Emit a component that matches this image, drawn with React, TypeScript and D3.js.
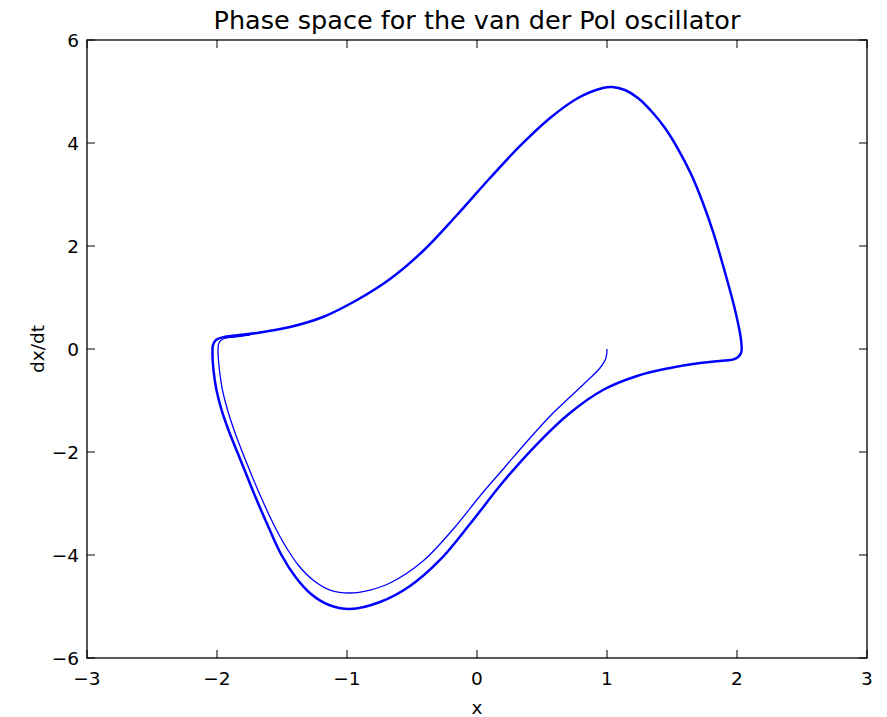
import * as d3 from "d3";
import { useEffect, useRef } from "react";

// limit cycle (x, dx/dt), clockwise from the left corner
const cycleX = [-2.031, -2.008, -1.946, -1.692, -1.438, -1.185, -0.923, -0.669, -0.415, -0.154, 0.1, 0.331, 0.562, 0.777, 0.969, 1.038, 1.138, 1.238, 1.354, 1.446, 1.538, 1.65, 1.738, 1.819, 1.885, 1.985, 2.031, 2.031, 1.985, 1.869, 1.715, 1.485, 1.231, 0.969, 0.715, 0.462, 0.2, -0.054, -0.285, -0.515, -0.746, -0.977, -1.138, -1.277, -1.396, -1.504, -1.604, -1.704, -1.819, -1.912, -1.965, -2.004, -2.027, -2.035];
const cycleY = [0.078, 0.175, 0.233, 0.311, 0.427, 0.621, 0.951, 1.359, 1.903, 2.602, 3.32, 3.942, 4.485, 4.874, 5.068, 5.087, 5.029, 4.874, 4.583, 4.291, 3.922, 3.379, 2.835, 2.252, 1.689, 0.757, 0.175, -0.078, -0.194, -0.233, -0.272, -0.369, -0.524, -0.796, -1.243, -1.845, -2.583, -3.398, -4.097, -4.602, -4.913, -5.049, -4.971, -4.757, -4.427, -4.0, -3.456, -2.874, -2.155, -1.573, -1.184, -0.796, -0.408, -0.058];

// first pass from the start point (1, 0) until it joins the cycle
const startX = [1.0, 0.992, 0.946, 0.846, 0.715, 0.585, 0.408, 0.215, 0.023, -0.169, -0.415, -0.669, -0.823, -0.977, -1.131, -1.262, -1.369, -1.469, -1.562, -1.662, -1.781, -1.869, -1.919, -1.958, -1.981, -1.992, -1.985, -1.954, -1.862, -1.746];
const startY = [0.0, -0.175, -0.369, -0.621, -0.932, -1.243, -1.728, -2.291, -2.854, -3.456, -4.117, -4.544, -4.68, -4.738, -4.68, -4.485, -4.214, -3.845, -3.417, -2.874, -2.155, -1.573, -1.184, -0.796, -0.408, -0.058, 0.117, 0.194, 0.233, 0.272];

const xTicks = [-3, -2, -1, 0, 1, 2, 3];
const yTicks = [-6, -4, -2, 0, 2, 4, 6];

const W = 887;
const H = 717;
const M = { left: 87, right: 20, top: 40, bottom: 59 };

const fmt = (v: number) => (v < 0 ? "\u2212" + Math.abs(v) : String(v));

export default function App() {
  const ref = useRef<SVGSVGElement>(null);

  useEffect(() => {
    document.body.style.margin = "0";
    const svg = d3.select(ref.current);
    svg.selectAll("*").remove();

    const x = d3.scaleLinear().domain([-3, 3]).range([M.left, W - M.right]);
    const y = d3.scaleLinear().domain([-6, 6]).range([H - M.bottom, M.top]);
    const font = "DejaVu Sans, sans-serif";

    const open = d3
      .line<[number, number]>()
      .x(d => x(d[0]))
      .y(d => y(d[1]))
      .curve(d3.curveCatmullRom.alpha(0.5));

    const closed = d3
      .line<[number, number]>()
      .x(d => x(d[0]))
      .y(d => y(d[1]))
      .curve(d3.curveCatmullRomClosed.alpha(0.5));

    const cycle: [number, number][] = cycleX.map((v, i) => [v, cycleY[i]]);
    const start: [number, number][] = startX.map((v, i) => [v, startY[i]]);

    svg.append("rect").attr("width", W).attr("height", H).attr("fill", "#fff");

    svg.append("path").datum(start).attr("fill", "none").attr("stroke", "#0000ff").attr("stroke-width", 1.3).attr("d", open);
    svg.append("path").datum(cycle).attr("fill", "none").attr("stroke", "#0000ff").attr("stroke-width", 2.5).attr("d", closed);

    // frame
    svg.append("rect")
      .attr("x", x(-3)).attr("y", y(6))
      .attr("width", x(3) - x(-3)).attr("height", y(-6) - y(6))
      .attr("fill", "none").attr("stroke", "#000").attr("stroke-width", 1.3);

    const tl = 8;
    const g = svg.append("g").attr("stroke", "#000").attr("stroke-width", 1);
    xTicks.forEach(t => {
      g.append("line").attr("x1", x(t)).attr("x2", x(t)).attr("y1", y(-6)).attr("y2", y(-6) - tl);
      g.append("line").attr("x1", x(t)).attr("x2", x(t)).attr("y1", y(6)).attr("y2", y(6) + tl);
    });
    yTicks.forEach(t => {
      g.append("line").attr("x1", x(-3)).attr("x2", x(-3) + tl).attr("y1", y(t)).attr("y2", y(t));
      g.append("line").attr("x1", x(3)).attr("x2", x(3) - tl).attr("y1", y(t)).attr("y2", y(t));
    });

    svg.append("g").selectAll("text").data(xTicks).join("text")
      .attr("x", d => x(d)).attr("y", y(-6) + 27)
      .attr("text-anchor", "middle").attr("font-family", font).attr("font-size", 18.5)
      .text(d => fmt(d));

    svg.append("g").selectAll("text").data(yTicks).join("text")
      .attr("x", x(-3) - 8).attr("y", d => y(d) + 6.5)
      .attr("text-anchor", "end").attr("font-family", font).attr("font-size", 18.5)
      .text(d => fmt(d));

    svg.append("text").attr("x", (x(-3) + x(3)) / 2).attr("y", 29)
      .attr("text-anchor", "middle").attr("font-family", font).attr("font-size", 25.5)
      .text("Phase space for the van der Pol oscillator");

    svg.append("text").attr("x", (x(-3) + x(3)) / 2).attr("y", 714)
      .attr("text-anchor", "middle").attr("font-family", font).attr("font-size", 18.5)
      .text("x");

    svg.append("text")
      .attr("transform", `translate(44,${(y(-6) + y(6)) / 2}) rotate(-90)`)
      .attr("text-anchor", "middle").attr("font-family", font).attr("font-size", 18.5)
      .text("dx/dt");
  }, []);

  return <svg ref={ref} width={W} height={H} style={{ display: "block" }} />;
}
